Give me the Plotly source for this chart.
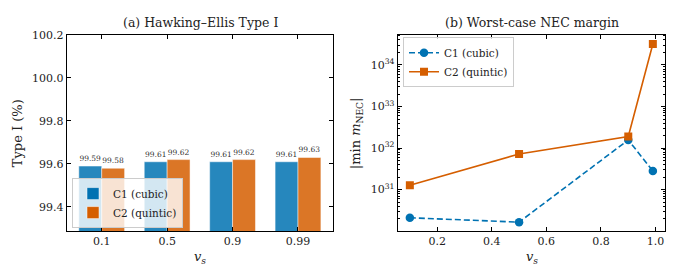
import plotly.graph_objects as go

W, H = 675, 277

# ---- data ----
categories = ["0.1", "0.5", "0.9", "0.99"]
type1_c1 = [99.59, 99.61, 99.61, 99.61]
type1_c2 = [99.58, 99.62, 99.62, 99.63]

vs = [0.1, 0.5, 0.9, 0.99]
nec_c1 = [2.1e30, 1.65e30, 1.57e32, 2.8e31]
nec_c2 = [1.27e31, 7.2e31, 1.9e32, 3.2e34]

names = ["C1 (cubic)", "C2 (quintic)"]
BLUE = "#0072B2"
ORANGE = "#D55E00"
FONT = "DejaVu Serif"


def px(x):
    return x / W


def py(y):
    return 1 - y / H


fig = go.Figure()

for vals, name, col in [(type1_c1, names[0], BLUE), (type1_c2, names[1], ORANGE)]:
    fig.add_trace(go.Bar(
        x=categories, y=vals, name=name, marker=dict(color=col, opacity=0.85,
                                                     line=dict(color="white", width=0.5)),
        text=[f"{v:.2f}" for v in vals], textposition="outside", constraintext="none",
        cliponaxis=True, textfont=dict(family=FONT, size=7.5, color="#333"),
        xaxis="x", yaxis="y", legend="legend"))

fig.add_trace(go.Scatter(
    x=vs, y=nec_c1, name=names[0], mode="lines+markers",
    line=dict(color=BLUE, width=1.6, dash="6px,3px"),
    marker=dict(symbol="circle", size=8.5, color=BLUE),
    xaxis="x2", yaxis="y2", legend="legend2"))
fig.add_trace(go.Scatter(
    x=vs, y=nec_c2, name=names[1], mode="lines+markers",
    line=dict(color=ORANGE, width=1.6),
    marker=dict(symbol="square", size=8, color=ORANGE),
    xaxis="x2", yaxis="y2", legend="legend2"))

axis_common = dict(showline=True, linecolor="black", linewidth=1, mirror="ticks",
                   ticks="inside", ticklen=4, tickcolor="black", showgrid=False,
                   zeroline=False, tickfont=dict(family=FONT, size=11, color="#222"))

top, bottom = 29.5, 230
legend_font = dict(family="DejaVu Serif, serif", size=10.5, color="#222")
fig.update_layout(
    width=W, height=H, margin=dict(l=0, r=0, t=0, b=0),
    plot_bgcolor="white", paper_bgcolor="white",
    font=dict(family=FONT, color="#222"),
    barmode="group", bargap=0.3, bargroupgap=0,
    xaxis=dict(domain=[px(66.7), px(333)], range=[-0.535, 3.535], anchor="y", **axis_common),
    yaxis=dict(domain=[py(bottom), py(top)], range=[99.288, 100.2], anchor="x",
               tickvals=[99.4, 99.6, 99.8, 100.0, 100.2], tickformat=".1f", **axis_common),
    xaxis2=dict(domain=[px(397.7), px(665)], range=[0.0555, 1.0345], anchor="y2",
                tickvals=[0.2, 0.4, 0.6, 0.8, 1.0], tickformat=".1f", **axis_common),
    yaxis2=dict(domain=[py(bottom), py(top)], type="log", range=[30.0035, 34.725], anchor="x2",
                tickvals=[1e31, 1e32, 1e33, 1e34],
                ticktext=["10<sup>31</sup>", "10<sup>32</sup>", "10<sup>33</sup>", "10<sup>34</sup>"],
                minor=dict(ticks="inside", ticklen=2, tickcolor="black", dtick="D1", showgrid=False),
                **axis_common),
    legend=dict(x=px(72), y=py(227), xanchor="left", yanchor="bottom",
                bgcolor="rgba(255,255,255,0.8)", bordercolor="#cccccc", borderwidth=1,
                font=legend_font, itemwidth=30, tracegroupgap=0),
    legend2=dict(x=px(403), y=py(32), xanchor="left", yanchor="top",
                 bgcolor="rgba(255,255,255,0.8)", bordercolor="#cccccc", borderwidth=1,
                 font=legend_font, itemwidth=30, tracegroupgap=0),
    showlegend=True,
)

ann = [
    dict(text="(a) Hawking–Ellis Type I", x=px(200), y=py(17), size=12.5),
    dict(text="(b) Worst-case NEC margin", x=px(531.5), y=py(17), size=12.5),
    dict(text="<i>v</i><sub><i>s</i></sub>", x=px(200), y=py(257), size=13),
    dict(text="<i>v</i><sub><i>s</i></sub>", x=px(531.5), y=py(257), size=13),
]
for a in ann:
    fig.add_annotation(text=a["text"], x=a["x"], y=a["y"], xref="paper", yref="paper",
                       showarrow=False, xanchor="center", yanchor="middle",
                       font=dict(family=FONT, size=a["size"], color="#222"))
fig.add_annotation(text="Type I (%)", x=px(17), y=py(130), xref="paper", yref="paper",
                   showarrow=False, textangle=-90, xanchor="center", yanchor="middle",
                   font=dict(family=FONT, size=13, color="#222"))
fig.add_annotation(text="|min <i>m</i><sub>NEC</sub>|", x=px(356), y=py(130), xref="paper",
                   yref="paper", showarrow=False, textangle=-90, xanchor="center",
                   yanchor="middle", font=dict(family=FONT, size=13, color="#222"))

fig.write_html("out.html", config={"displayModeBar": False},
               post_script="document.body.style.margin='0';")
